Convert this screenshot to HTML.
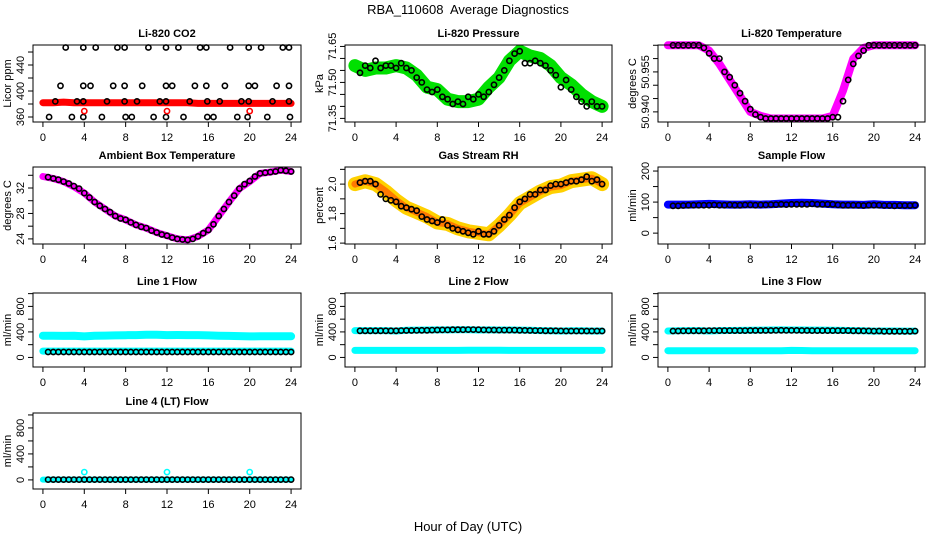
<!DOCTYPE html>
<html><head><meta charset="utf-8"><style>
html,body{margin:0;padding:0;background:#fff}
svg{display:block}
text{font-family:"Liberation Sans",Arial,sans-serif;fill:#000}
</style></head><body>
<svg id="chart" width="936" height="540" viewBox="0 0 936 540" xmlns="http://www.w3.org/2000/svg">
<text x="468" y="14" text-anchor="middle" font-size="13">RBA_110608&#160; Average Diagnostics</text>
<text x="468" y="531" text-anchor="middle" font-size="13">Hour of Day (UTC)</text>
</svg>
<script>
// ---- shared hour categories ----
const bandHours = [0,1,2,3,4,5,6,7,8,9,10,11,12,13,14,15,16,17,18,19,20,21,22,23,24];
const blackHours = [0.5,1,1.5,2,2.5,3,3.5,4,4.5,5,5.5,6,6.5,7,7.5,8,8.5,9,9.5,10,10.5,11,11.5,12,12.5,13,13.5,14,14.5,15,15.5,16,16.5,17,17.5,18,18.5,19,19.5,20,20.5,21,21.5,22,22.5,23,23.5,24];
const xTicks = [0,4,8,12,16,20,24];

// ---- Li-820 CO2 ----
const co2Band = [382,382,383,382,382,382,382,382,382,382,382,382,382,382,382,381,381,381,381,381,381,381,381,381,381];
const co2BlackHours = [2.2,3.9,5.1,7.2,7.9,10.2,11.9,13.1,15.2,15.8,18.1,19.9,21.1,23.2,23.8,
 1.7,3.9,4.6,6.8,7.9,9.6,11.9,12.5,14.7,15.8,17.6,19.9,20.5,22.6,23.8,
 1.2,3.3,3.9,6.2,7.9,9.1,11.3,11.9,14.2,15.9,17.1,19.2,19.9,22.2,23.8,
 0.6,2.8,3.9,5.7,8.0,8.6,10.7,11.9,13.6,15.9,16.5,18.8,19.8,21.7,23.9];
const co2BlackValues = [467,467,467,467,467,467,467,467,467,467,467,467,467,467,467,
 408,408,408,408,408,408,408,408,408,408,408,408,408,408,408,
 384,384,384,384,384,384,384,384,384,384,384,384,384,384,384,
 360,360,360,360,360,360,360,360,360,360,360,360,360,360,360];
const co2OutlierHours = [4,12,20];
const co2OutlierValues = [369,369,369];

// ---- Li-820 Pressure ----
const presBand = [71.57,71.55,71.56,71.56,71.57,71.56,71.53,71.48,71.47,71.43,71.42,71.42,71.43,71.48,71.52,71.59,71.63,71.61,71.60,71.57,71.52,71.49,71.45,71.42,71.40];
const presBlack = [71.54,71.57,71.56,71.59,71.56,71.57,71.57,71.56,71.58,71.56,71.55,71.52,71.50,71.47,71.46,71.47,71.44,71.43,71.41,71.42,71.41,71.44,71.43,71.45,71.44,71.46,71.49,71.52,71.55,71.59,71.62,71.63,71.58,71.58,71.59,71.58,71.57,71.55,71.53,71.48,71.51,71.47,71.44,71.42,71.40,71.42,71.40,71.40];

// ---- Li-820 Temperature ----
const ltBand = [50.965,50.965,50.965,50.965,50.963,50.958,50.952,50.946,50.940,50.9385,50.9375,50.9375,50.9375,50.9375,50.9375,50.9375,50.9385,50.948,50.960,50.964,50.965,50.965,50.965,50.965,50.965];
const ltBlack = [50.965,50.965,50.965,50.965,50.965,50.965,50.964,50.962,50.960,50.960,50.955,50.953,50.950,50.947,50.944,50.941,50.939,50.938,50.9375,50.9375,50.9375,50.9375,50.9375,50.9375,50.9375,50.9375,50.9375,50.9375,50.9375,50.9375,50.9375,50.938,50.938,50.944,50.952,50.958,50.961,50.963,50.965,50.965,50.965,50.965,50.965,50.965,50.965,50.965,50.965,50.965];

// ---- Ambient Box Temperature ----
const ambBand = [33.8,33.5,33.0,32.2,31.2,29.8,28.7,27.6,27.0,26.2,25.7,25.0,24.5,24.0,23.85,24.4,25.4,27.6,29.8,31.9,33.0,34.3,34.5,34.8,34.6];
const ambBlack = [33.7,33.5,33.3,33.0,32.7,32.3,31.9,31.2,30.5,29.8,29.2,28.7,28.2,27.6,27.2,27.0,26.6,26.2,25.9,25.7,25.3,25.0,24.7,24.5,24.2,24.0,23.9,23.85,24.0,24.4,24.9,25.4,26.3,27.6,28.7,29.8,30.8,31.9,32.6,33.1,33.8,34.3,34.4,34.5,34.6,34.8,34.7,34.6];

// ---- Gas Stream RH ----
const rhBand = [2.00,2.02,2.00,1.95,1.89,1.84,1.81,1.78,1.74,1.73,1.70,1.68,1.67,1.66,1.72,1.79,1.87,1.91,1.95,1.98,1.99,2.02,2.03,2.04,2.00];
const rhBlack = [2.01,2.02,2.02,2.00,1.93,1.90,1.89,1.88,1.85,1.84,1.83,1.82,1.78,1.76,1.75,1.74,1.76,1.72,1.70,1.69,1.68,1.67,1.66,1.68,1.66,1.66,1.68,1.72,1.76,1.79,1.84,1.88,1.90,1.93,1.93,1.96,1.96,1.99,2.00,2.00,2.01,2.02,2.02,2.03,2.05,2.02,2.03,2.00];

// ---- Sample Flow ----
const sfBand = [92,92,92,93,94,93,92,92,93,92,93,95,97,98,97,95,93,92,92,91,93,91,91,90,90];
const sfBlack = [88,88,89,90,90,90,90,90,91,90,90,91,90,90,91,91,90,91,91,92,92,93,92,93,93,93,93,94,93,93,93,93,91,90,90,90,90,89,90,90,90,89,89,88,89,89,89,90];

// ---- Line 1 Flow ----
const l1Upper = [340,340,338,340,330,340,342,345,348,350,355,355,350,352,350,350,345,340,338,335,330,332,333,332,332];
const l1Lower = [100,100,100,100,100,100,100,100,100,100,100,100,100,100,100,100,100,100,100,100,100,100,100,100,100];
const l1Black = [85,85,85,85,85,85,85,85,85,85,85,85,85,85,85,85,85,85,85,85,85,85,85,85,85,85,85,85,85,85,85,85,85,85,85,85,85,85,85,85,85,85,85,85,85,85,85,85];

// ---- Line 2 Flow ----
const l2Upper = [420,420,420,420,415,425,428,430,432,432,435,435,430,432,430,430,428,425,420,418,415,418,418,415,415];
const l2Lower = [110,110,110,110,110,110,110,110,110,110,110,112,112,112,112,110,110,110,110,110,110,110,110,110,110];
const l2Black = [418,418,418,418,418,418,418,418,420,422,422,424,425,426,428,430,432,432,434,434,435,436,436,434,432,430,430,428,428,428,428,426,424,422,420,420,418,418,417,416,415,414,414,414,414,414,414,414];

// ---- Line 3 Flow ----
const l3Upper = [415,418,420,420,415,420,422,424,426,428,430,432,430,430,428,428,426,424,420,418,412,415,415,412,412];
const l3Lower = [105,105,105,105,105,105,105,105,105,105,105,105,110,108,105,105,105,105,105,105,105,105,105,105,105];
const l3Black = [415,415,416,416,417,418,418,420,420,420,420,420,420,420,420,422,422,422,422,422,424,426,424,424,424,422,422,420,420,420,420,420,420,420,420,418,418,416,416,412,414,410,410,410,410,410,410,412];

// ---- Line 4 (LT) Flow ----
const l4Band = [5,5,5,5,5,5,5,5,5,5,5,5,5,5,5,5,5,5,5,5,5,5,5,5,5];
const l4OutlierHours = [4,12,20];
const l4OutlierValues = [120,120,120];
const l4Black = [5,5,5,5,5,5,5,5,5,5,5,5,5,5,5,5,5,5,5,5,5,5,5,5,5,5,5,5,5,5,5,5,5,5,5,5,5,5,5,5,5,5,5,5,5,5,5,5];

const NS = "http://www.w3.org/2000/svg";
const svg = document.getElementById('chart');
const colLeft = [33, 345, 658], colWidth = [268, 267, 267];
const rowTop = [45, 167, 293, 413], rowHeight = [77, 77, 74, 76];

function mk(tag, attrs, parent) {
  const e = document.createElementNS(NS, tag);
  for (const k in attrs) e.setAttribute(k, attrs[k]);
  (parent || svg).appendChild(e);
  return e;
}

function panel(p) {
  const g = mk('g', {});
  
  
  const L = colLeft[p.col], W = colWidth[p.col], T = rowTop[p.row], H = rowHeight[p.row];
  const xs = h => L + (h + 0.96) / 25.92 * W;
  const ys = v => T + H - (v - p.ymin) / (p.ymax - p.ymin) * H;
  const t = mk('text', {x: L + W / 2, y: T - 8, 'text-anchor': 'middle', 'font-size': 11, 'font-weight': 'bold'}, g);
  t.textContent = p.title;
  
  
  const mg = mk('g', {}, g);
  
  
  (p.bands || []).forEach(b => {
    const pts = b.hours.map((h, i) => xs(h).toFixed(1) + ',' + ys(b.values[i]).toFixed(1)).join(' ');
    const pl = mk('polyline', {points: pts, fill: 'none', stroke: b.color, 'stroke-width': b.width, 'stroke-linecap': 'round', 'stroke-linejoin': 'round'}, mg);
    
    
  });
  (p.points || []).forEach(s => {
    s.hours.forEach((h, i) => {
      const c = mk('circle', {cx: xs(h).toFixed(1), cy: ys(s.values[i]).toFixed(1), r: 2.6, fill: 'none', stroke: s.color, 'stroke-width': 1.6}, mg);
      
      
    });
  });
  const box = mk('rect', {x: L, y: T, width: W, height: H, fill: 'none', stroke: '#000', 'stroke-width': 1}, g);
  
  
  const xa = mk('g', {}, g);
  
  
  mk('line', {x1: xs(0), x2: xs(24), y1: T + H, y2: T + H, stroke: '#000'}, xa);
  xTicks.forEach(v => {
    mk('line', {x1: xs(v), x2: xs(v), y1: T + H, y2: T + H + 5, stroke: '#000'}, xa);
    const tl = mk('text', {x: xs(v), y: T + H + 19, 'text-anchor': 'middle', 'font-size': 11}, xa);
    tl.textContent = v;
    
    
  });
  const ya = mk('g', {}, g);
  
  
  mk('line', {x1: L, x2: L, y1: ys(p.ticks[0]), y2: ys(p.ticks[p.ticks.length - 1]), stroke: '#000'}, ya);
  p.ticks.forEach(v => {
    mk('line', {x1: L - 5, x2: L, y1: ys(v), y2: ys(v), stroke: '#000'}, ya);
  });
  p.labels.forEach((lab, i) => {
    const y = ys(p.labelVals[i]);
    const tl = mk('text', {x: 0, y: 0, transform: `translate(${L - 9},${y}) rotate(-90)`, 'text-anchor': 'middle', 'font-size': 11}, ya);
    tl.textContent = lab;
    
    
  });
  const yl = mk('text', {x: 0, y: 0, transform: `translate(${L - 22},${T + H / 2}) rotate(-90)`, 'text-anchor': 'middle', 'font-size': 11}, g);
  yl.textContent = p.ylab;
  
  
}

panel({name: 'panel-co2', title: 'Li-820 CO2', ylab: 'Licor ppm', col: 0, row: 0, ymin: 352.3, ymax: 470.8,
  ticks: [360, 380, 400, 420, 440, 460], labels: ['360', '400', '440'], labelVals: [360, 400, 440],
  bands: [{hours: bandHours, values: co2Band, color: '#ff0000', width: 7}],
  points: [{hours: co2BlackHours, values: co2BlackValues, color: '#000'}, {hours: co2OutlierHours, values: co2OutlierValues, color: '#ff0000'}]});

panel({name: 'panel-pressure', title: 'Li-820 Pressure', ylab: 'kPa', col: 1, row: 0, ymin: 71.335, ymax: 71.656,
  ticks: [71.35, 71.40, 71.45, 71.50, 71.55, 71.60, 71.65], labels: ['71.35', '71.50', '71.65'], labelVals: [71.35, 71.50, 71.65],
  bands: [{hours: bandHours, values: presBand, color: '#00e000', width: 13}],
  points: [{hours: blackHours, values: presBlack, color: '#000'}]});

panel({name: 'panel-li820-temperature', title: 'Li-820 Temperature', ylab: 'degrees C', col: 2, row: 0, ymin: 50.9362, ymax: 50.9651,
  ticks: [50.940, 50.945, 50.950, 50.955, 50.960, 50.965], labels: ['50.940', '50.955'], labelVals: [50.940, 50.955],
  bands: [{hours: bandHours, values: ltBand, color: '#ff00ff', width: 8}],
  points: [{hours: blackHours, values: ltBlack, color: '#000'}]});

panel({name: 'panel-ambient-temperature', title: 'Ambient Box Temperature', ylab: 'degrees C', col: 0, row: 1, ymin: 23.2, ymax: 35.3,
  ticks: [24, 26, 28, 30, 32, 34], labels: ['24', '28', '32'], labelVals: [24, 28, 32],
  bands: [{hours: bandHours, values: ambBand, color: '#ff00ff', width: 7}],
  points: [{hours: blackHours, values: ambBlack, color: '#000'}]});

panel({name: 'panel-gas-rh', title: 'Gas Stream RH', ylab: 'percent', col: 1, row: 1, ymin: 1.594, ymax: 2.116,
  ticks: [1.6, 1.7, 1.8, 1.9, 2.0, 2.1], labels: ['1.6', '1.8', '2.0'], labelVals: [1.6, 1.8, 2.0],
  bands: [{hours: bandHours, values: rhBand, color: '#ffd000', width: 14}, {hours: bandHours, values: rhBand, color: '#ff7a00', width: 7}],
  points: [{hours: blackHours, values: rhBlack, color: '#000'}]});

panel({name: 'panel-sample-flow', title: 'Sample Flow', ylab: 'ml/min', col: 2, row: 1, ymin: -35, ymax: 213,
  ticks: [0, 50, 100, 150, 200], labels: ['0', '100', '200'], labelVals: [0, 100, 200],
  bands: [{hours: bandHours, values: sfBand, color: '#0000ff', width: 8}],
  points: [{hours: blackHours, values: sfBlack, color: '#000'}]});

panel({name: 'panel-line1-flow', title: 'Line 1 Flow', ylab: 'ml/min', col: 0, row: 2, ymin: -150, ymax: 1010,
  ticks: [0, 200, 400, 600, 800, 1000], labels: ['0', '400', '800'], labelVals: [0, 400, 800],
  bands: [{hours: bandHours, values: l1Upper, color: '#00ffff', width: 8}, {hours: bandHours, values: l1Lower, color: '#00ffff', width: 7}],
  points: [{hours: blackHours, values: l1Black, color: '#000'}]});

panel({name: 'panel-line2-flow', title: 'Line 2 Flow', ylab: 'ml/min', col: 1, row: 2, ymin: -150, ymax: 1010,
  ticks: [0, 200, 400, 600, 800, 1000], labels: ['0', '400', '800'], labelVals: [0, 400, 800],
  bands: [{hours: bandHours, values: l2Upper, color: '#00ffff', width: 7}, {hours: bandHours, values: l2Lower, color: '#00ffff', width: 7}],
  points: [{hours: blackHours, values: l2Black, color: '#000'}]});

panel({name: 'panel-line3-flow', title: 'Line 3 Flow', ylab: 'ml/min', col: 2, row: 2, ymin: -150, ymax: 1010,
  ticks: [0, 200, 400, 600, 800, 1000], labels: ['0', '400', '800'], labelVals: [0, 400, 800],
  bands: [{hours: bandHours, values: l3Upper, color: '#00ffff', width: 7}, {hours: bandHours, values: l3Lower, color: '#00ffff', width: 7}],
  points: [{hours: blackHours, values: l3Black, color: '#000'}]});

panel({name: 'panel-line4-flow', title: 'Line 4 (LT) Flow', ylab: 'ml/min', col: 0, row: 3, ymin: -140, ymax: 1030,
  ticks: [0, 200, 400, 600, 800, 1000], labels: ['0', '400', '800'], labelVals: [0, 400, 800],
  bands: [{hours: bandHours, values: l4Band, color: '#00ffff', width: 6}],
  points: [{hours: blackHours, values: l4Black, color: '#000'}, {hours: l4OutlierHours, values: l4OutlierValues, color: '#00ffff'}]});
</script>
</body></html>
